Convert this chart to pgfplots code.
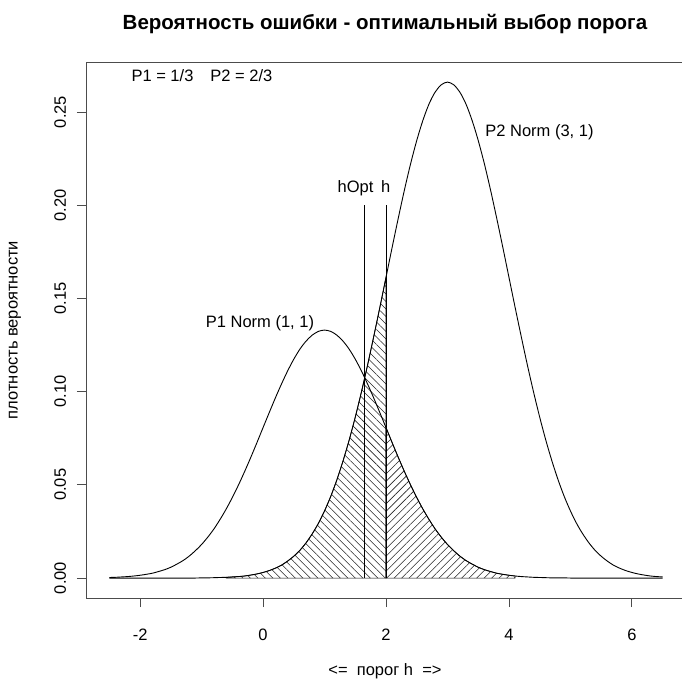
\documentclass[border=0pt]{standalone}
\usepackage{pgfplots}
\pgfplotsset{compat=1.18}
\usepackage{pgfplotstable}
\usepackage{fontspec}
\setmainfont{Liberation Sans}
\usetikzlibrary{patterns.meta}

\pgfplotstableread{
x p1 p2
-2.5 0.0003 0.0000
-2.4 0.0004 0.0000
-2.3 0.0006 0.0000
-2.2 0.0008 0.0000
-2.1 0.0011 0.0000
-2.0 0.0015 0.0000
-1.9 0.0020 0.0000
-1.8 0.0026 0.0000
-1.7 0.0035 0.0000
-1.6 0.0045 0.0000
-1.5 0.0058 0.0000
-1.4 0.0075 0.0000
-1.3 0.0094 0.0000
-1.2 0.0118 0.0000
-1.1 0.0147 0.0000
-1.0 0.0180 0.0001
-0.9 0.0219 0.0001
-0.8 0.0263 0.0002
-0.7 0.0314 0.0003
-0.6 0.0370 0.0004
-0.5 0.0432 0.0006
-0.4 0.0499 0.0008
-0.3 0.0571 0.0011
-0.2 0.0647 0.0016
-0.1 0.0726 0.0022
0.0 0.0807 0.0030
0.1 0.0887 0.0040
0.2 0.0966 0.0053
0.3 0.1041 0.0069
0.4 0.1111 0.0091
0.5 0.1174 0.0117
0.6 0.1228 0.0149
0.7 0.1271 0.0189
0.8 0.1303 0.0237
0.9 0.1323 0.0293
1.0 0.1330 0.0360
1.1 0.1323 0.0437
1.2 0.1303 0.0526
1.3 0.1271 0.0627
1.4 0.1228 0.0739
1.5 0.1174 0.0863
1.6 0.1111 0.0998
1.7 0.1041 0.1142
1.8 0.0966 0.1295
1.9 0.0887 0.1452
2.0 0.0807 0.1613
2.1 0.0726 0.1774
2.2 0.0647 0.1931
2.3 0.0571 0.2082
2.4 0.0499 0.2222
2.5 0.0432 0.2347
2.6 0.0370 0.2455
2.7 0.0314 0.2543
2.8 0.0263 0.2607
2.9 0.0219 0.2646
3.0 0.0180 0.2660
3.1 0.0147 0.2646
3.2 0.0118 0.2607
3.3 0.0094 0.2543
3.4 0.0075 0.2455
3.5 0.0058 0.2347
3.6 0.0045 0.2222
3.7 0.0035 0.2082
3.8 0.0026 0.1931
3.9 0.0020 0.1774
4.0 0.0015 0.1613
4.1 0.0011 0.1452
4.2 0.0008 0.1295
4.3 0.0006 0.1142
4.4 0.0004 0.0998
4.5 0.0003 0.0863
4.6 0.0002 0.0739
4.7 0.0001 0.0627
4.8 0.0001 0.0526
4.9 0.0001 0.0437
5.0 0.0000 0.0360
5.1 0.0000 0.0293
5.2 0.0000 0.0237
5.3 0.0000 0.0189
5.4 0.0000 0.0149
5.5 0.0000 0.0117
5.6 0.0000 0.0091
5.7 0.0000 0.0069
5.8 0.0000 0.0053
5.9 0.0000 0.0040
6.0 0.0000 0.0030
6.1 0.0000 0.0022
6.2 0.0000 0.0016
6.3 0.0000 0.0011
6.4 0.0000 0.0008
6.5 0.0000 0.0006
}\densities

\begin{document}
\begin{tikzpicture}
\path[use as bounding box] (-86pt,-82pt) rectangle (596pt,598pt);
\begin{axis}[
  at={(0,0)}, anchor=south west,
  scale only axis,
  width=600pt, height=536pt,
  xmin=-2.88, xmax=6.88,
  ymin=-0.0107, ymax=0.2768,
  axis line style={draw=black!70, line width=0.9pt},
  tick style={black!70, line width=0.9pt},
  tick align=outside,
  major tick length=9pt,
  xtick={-2,0,2,4,6},
  xticklabels={-2,0,2,4,6},
  ytick={0,0.05,0.1,0.15,0.2,0.25},
  yticklabels={0.00,0.05,0.10,0.15,0.20,0.25},
  xtick pos=bottom, ytick pos=left,
  every tick label/.append style={font=\fontsize{16.5}{19}\selectfont},
  xticklabel style={anchor=base},
  xticklabel shift=33pt,
  yticklabel style={rotate=90, anchor=base},
  yticklabel shift=11pt,
  title={\textbf{Вероятность ошибки - оптимальный выбор порога}},
  title style={at={(axis description cs:0.4983,1.0597)}, anchor=center, font=\fontsize{20.5}{24}\selectfont},
  xlabel={<=\ \ порог h\ \ =>},
  xlabel style={at={(axis description cs:0.4983,-0.1362)}, anchor=center, font=\fontsize{16.5}{19}\selectfont},
  ylabel={плотность вероятности},
  ylabel style={at={(axis description cs:-0.1183,0.5)}, anchor=center, rotate=0, font=\fontsize{16.5}{19}\selectfont},
  clip=false,
]
\addplot[draw=black, line width=0.6pt, pattern={Lines[angle=-45,distance=5.3pt,line width=0.55pt]}, pattern color=black!85, restrict x to domain=-0.65:2.05] table[x=x,y=p2]{\densities} \closedcycle;
\addplot[draw=black, line width=0.6pt, pattern={Lines[angle=45,distance=5.3pt,line width=0.55pt]}, pattern color=black!85, restrict x to domain=1.95:4.15] table[x=x,y=p1]{\densities} \closedcycle;
\addplot[black, line width=0.9pt, smooth] table[x=x,y=p1]{\densities};
\addplot[black, line width=0.9pt, smooth] table[x=x,y=p2]{\densities};
\addplot[black, line width=0.9pt] coordinates {(1.653,0) (1.653,0.2)};
\addplot[black, line width=0.9pt] coordinates {(2,0) (2,0.2)};
\node[anchor=base west, font=\fontsize{16.5}{19}\selectfont] at (axis cs:-2.197,0.2662) {P1 = 1/3\hspace{17pt}P2 = 2/3};
\node[anchor=base, font=\fontsize{16.5}{19}\selectfont] at (axis cs:-0.05,0.1345) {P1 Norm (1, 1)};
\node[anchor=base, font=\fontsize{16.5}{19}\selectfont] at (axis cs:4.496,0.2368) {P2 Norm (3, 1)};
\node[anchor=base, font=\fontsize{16.5}{19}\selectfont] at (axis cs:1.505,0.2067) {hOpt};
\node[anchor=base, font=\fontsize{16.5}{19}\selectfont] at (axis cs:1.995,0.2067) {h};
\end{axis}
\end{tikzpicture}
\end{document}
